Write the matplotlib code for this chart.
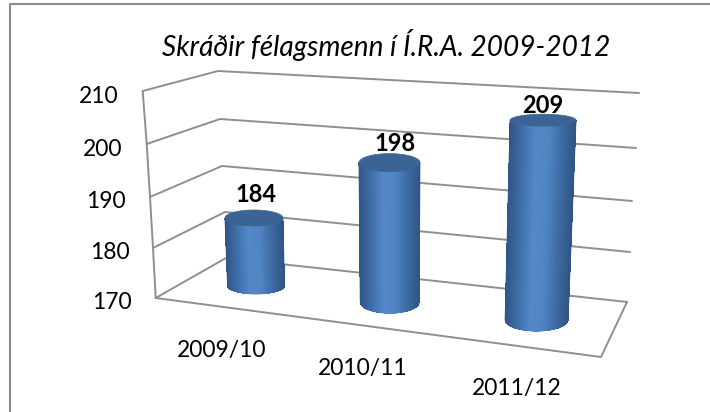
import numpy as np
import matplotlib
matplotlib.use('Agg')
import matplotlib.pyplot as plt
from matplotlib.collections import PolyCollection
from matplotlib.colors import LinearSegmentedColormap
from matplotlib.patches import Polygon

plt.rcParams['font.family'] = ['Lato', 'Open Sans', 'DejaVu Sans']

# Data
title = 'Skráðir félagsmenn í Í.R.A. 2009-2012'
categories = ['2009/10', '2010/11', '2011/12']
members = [184, 198, 209]
ticks = [170, 180, 190, 200, 210]

# Pixel outline of the 3D box, one point per tick on each upright edge
front_left = np.array([(155.7, 298), (153, 248), (150, 197), (146.7, 144), (142.7, 91)])
back_left = np.array([(226, 258), (225, 212), (222, 166), (220, 119), (218, 71)])
back_right = np.array([(627, 302), (630, 252), (632, 201), (636, 148), (639, 93)])
front_right = np.array([(601, 357), (603, 306), (605, 255), (608, 204), (610, 152)])

# Bar placement inside the box and cylinder sizes in pixels
bar_u = [0.154, 0.47, 0.817]
half_w_top = [29, 30.5, 33]
half_w_bot = [28.5, 29.5, 31.5]
ry_top = [8, 9, 6]
ry_bot = [8, 11, 11]
label_dx = [2, 6, 0]
label_dy = [23, 19, 15]

shade = LinearSegmentedColormap.from_list('cyl', ['#2f5686', '#3f6ea8', '#5488c8', '#5085c4', '#3e6ca4', '#2f5686'])


def edge(points, value):
    return np.array([np.interp(value, ticks, points[:, 0]), np.interp(value, ticks, points[:, 1])])


def project(u, value, depth):
    front = edge(front_left, value) * (1 - u) + edge(front_right, value) * u
    back = edge(back_left, value) * (1 - u) + edge(back_right, value) * u
    return front * (1 - depth) + back * depth


def ellipse(cx, cy, w, h, n=80):
    t = np.linspace(0, 2 * np.pi, n)
    return np.column_stack([cx + w * np.cos(t), cy + h * np.sin(t)])


fig = plt.figure(figsize=(7.1, 4.12), dpi=100)
ax = fig.add_axes([0, 0, 1, 1])
ax.set_xlim(0, 710)
ax.set_ylim(412, 0)
ax.axis('off')

# frame only shows on the top and left
ax.plot([9.5, 9.5, 710], [412, 3.5, 3.5], color='#8c8c8c', lw=1.5, zorder=1)

# walls and floor
grid = dict(color='#8f8f8f', lw=1.4, solid_capstyle='round', zorder=1)
for v in ticks:
    a, b, c = edge(front_left, v), edge(back_left, v), edge(back_right, v)
    ax.plot([a[0], b[0], c[0]], [a[1], b[1], c[1]], **grid)
ax.plot(front_left[:, 0], front_left[:, 1], **grid)
floor = np.array([front_left[0], front_right[0], back_right[0]])
ax.plot(floor[:, 0], floor[:, 1], **grid)

# cylinders
for i, val in enumerate(members):
    bot = project(bar_u[i], ticks[0], 0.5)
    top = project(bar_u[i], val, 0.5)
    s = np.linspace(-1, 1, 81)
    arc = np.sqrt(1 - s ** 2)
    bx = bot[0] + half_w_bot[i] * s
    by = bot[1] + ry_bot[i] * arc
    tx = top[0] + half_w_top[i] * s
    ty = top[1] + ry_top[i] * arc
    # smooth outline underneath, strips on top without antialiasing so no seams show
    outline = np.vstack([np.column_stack([bx, by]), np.column_stack([tx, ty])[::-1]])
    ax.add_patch(Polygon(outline, fc='#3a6496', ec='#3a6496', lw=0.6, zorder=2))
    quads = [[(bx[k], by[k]), (bx[k + 1], by[k + 1]), (tx[k + 1], ty[k + 1]), (tx[k], ty[k])] for k in range(80)]
    cols = shade(np.linspace(0, 1, 80))
    ax.add_collection(PolyCollection(quads, facecolors=cols, edgecolors='none', antialiaseds=False, zorder=3))
    ax.add_patch(Polygon(ellipse(top[0], top[1], half_w_top[i], ry_top[i]), fc='#3b6495', ec='#3b6495', lw=0.5, zorder=4))
    ax.text(top[0] + label_dx[i], top[1] - label_dy[i], str(val), ha='center', va='center',
            fontsize=17, fontweight='bold', color='black', zorder=5)

# text
ax.text(386.5, 45, title, ha='center', va='center', fontsize=20.2, style='italic', color='black')
for v, (x, y) in zip(ticks, [(112, 302.5), (109.5, 252.5), (105.5, 201.5), (102.5, 149.5), (99, 96)]):
    ax.text(x, y, str(v), ha='center', va='center', fontsize=16.5, color='black')
for c, (x, y) in zip(categories, [(222, 350), (362.5, 368), (517, 388)]):
    ax.text(x, y, c, ha='center', va='center', fontsize=16.5, color='black')

fig.savefig('out.png', dpi=100)
